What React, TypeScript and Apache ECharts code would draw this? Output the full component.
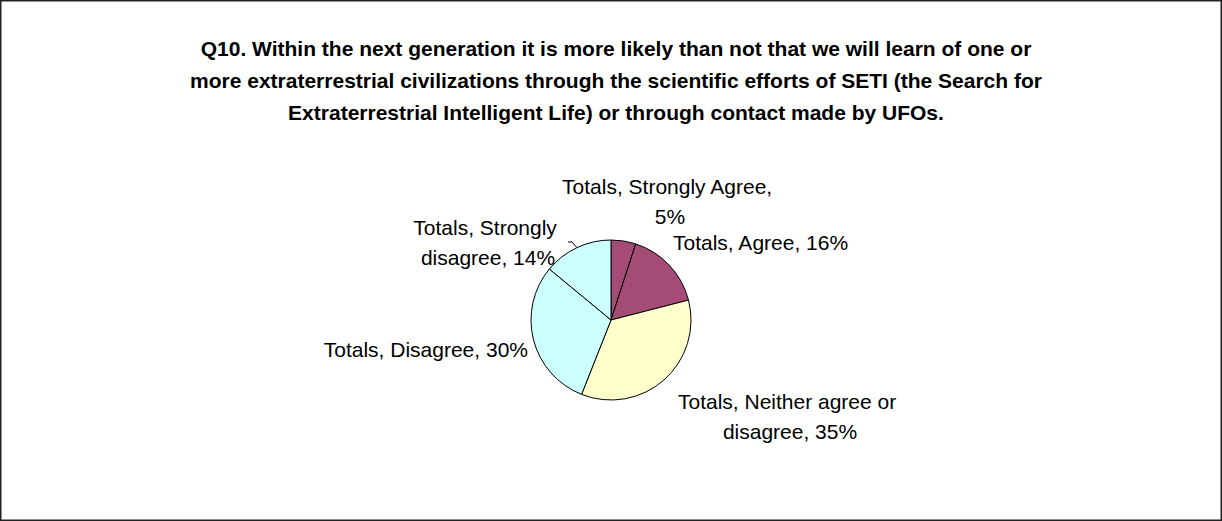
import React, { useEffect, useRef } from "react";
import * as echarts from "echarts";

const seriesName = "Totals";
const categories = ["Strongly Agree", "Agree", "Neither agree or disagree", "Disagree", "Strongly disagree"];
const values = [5, 16, 35, 30, 14];
const sliceColors = ["#A44B76", "#A44B76", "#FFFFCC", "#CCFFFF", "#CCFFFF"];
const titleLines = [
  "Q10. Within the next generation it is more likely than not that we will learn of one or",
  "more extraterrestrial civilizations through the scientific efforts of SETI (the Search for",
  "Extraterrestrial Intelligent Life) or through contact made by UFOs.",
];

// label placement (layout only)
const labelPos: { x: number; y: number; align: string; width: number }[] = [
  { x: 670, y: 201, align: "center", width: 235 },
  { x: 673, y: 242, align: "left", width: 400 },
  { x: 790, y: 416, align: "center", width: 235 },
  { x: 528, y: 349, align: "right", width: 400 },
  { x: 488, y: 242, align: "center", width: 160 },
];

export default function App() {
  const ref = useRef<HTMLDivElement>(null);
  useEffect(() => {
    if (!ref.current) return;
    const chart = echarts.init(ref.current, undefined, { renderer: "svg" });
    const font = "'Liberation Sans', Arial, sans-serif";
    chart.setOption({
      animation: false,
      backgroundColor: "#ffffff",
      title: {
        text: titleLines.join("\n"),
        left: 611,
        top: 27,
        textAlign: "center",
        textStyle: {
          fontFamily: font,
          fontWeight: "bold",
          fontSize: 21,
          lineHeight: 32,
          color: "#000",
        },
      },
      graphic: [
        {
          type: "rect",
          shape: { x: 0.75, y: 0.75, width: 1220.5, height: 519.5 },
          style: { fill: "none", stroke: "#222", lineWidth: 1.5 },
          silent: true,
        },
      ],
      series: [
        {
          type: "pie",
          name: seriesName,
          center: [611, 320],
          radius: 80,
          startAngle: 90,
          clockwise: true,
          avoidLabelOverlap: false,
          itemStyle: { borderColor: "#000", borderWidth: 1 },
          emphasis: { disabled: true },
          label: {
            show: true,
            position: "outside",
            fontFamily: font,
            fontSize: 21,
            lineHeight: 30,
            color: "#000",
            overflow: "break",
            formatter: (p: any) => `${p.seriesName}, ${p.name}, ${p.percent}%`,
          },
          labelLine: { show: false },
          labelLayout: (params: any) => {
            const lp = labelPos[params.dataIndex];
            return { x: lp.x, y: lp.y, align: lp.align, verticalAlign: "middle" };
          },
          data: categories.map((c, i) => ({
            name: c,
            value: values[i],
            itemStyle: { color: sliceColors[i] },
            label: { width: labelPos[i].width, align: labelPos[i].align },
            labelLine:
              i === 4
                ? { show: true, length: 4, length2: 4, lineStyle: { color: "#000", width: 1 } }
                : { show: false },
          })),
        },
      ],
    });
    return () => chart.dispose();
  }, []);
  return (
    <div
      ref={ref}
      style={{ position: "fixed", left: 0, top: 0, width: 1222, height: 521 }}
    />
  );
}
